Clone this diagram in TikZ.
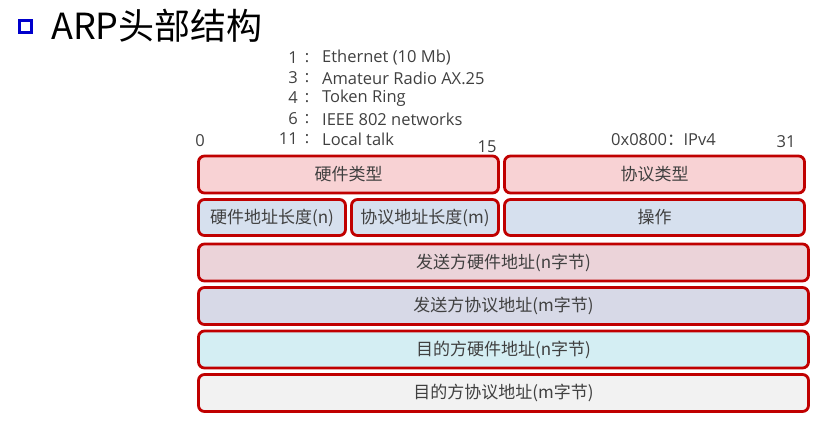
\documentclass[tikz,border=0pt]{standalone}
\usepackage{fontspec}
\setmainfont{Open Sans}
\newfontfamily\cjk{Noto Sans CJK SC}
\usepackage{tikz}
\usetikzlibrary{positioning}

\definecolor{frame}{RGB}{192,0,0}
\definecolor{txt}{RGB}{64,64,64}
\definecolor{hwtype}{RGB}{248,210,212}
\definecolor{oprow}{RGB}{214,224,238}
\definecolor{sendhw}{RGB}{235,211,217}
\definecolor{sendpr}{RGB}{215,217,231}
\definecolor{tgthw}{RGB}{212,238,243}
\definecolor{tgtpr}{RGB}{242,242,242}

\begin{document}
\begin{tikzpicture}[x=1pt, y=-1pt,
    field/.style={shape=rectangle, rounded corners=6pt, draw=frame, line width=2.8pt,
                  minimum height=37pt, inner sep=0pt, text=txt,
                  font=\cjk\fontsize{17}{17}\selectfont},
    note/.style={text=txt, inner sep=0pt, font=\fontsize{16.5}{16.5}\selectfont},
    bit/.style={text=txt, inner sep=0pt, font=\fontsize{16.5}{16.5}\selectfont}]
    \useasboundingbox (0,0) rectangle (828,432);

    % title
    \node[shape=rectangle, draw=blue!80!black, line width=2.6pt, minimum size=12pt,
          inner sep=0pt] (mark) at (25.5,26.5) {};
    \node[anchor=west, inner sep=0pt, font=\cjk\fontsize{36}{36}\selectfont] (title) at (51,26) {ARP头部结构};

    % hardware type codes
    \foreach \n/\t/\y/\k in {1/Ethernet (10 Mb)/58/a, 3/Amateur Radio AX.25/78/b,
                             4/Token Ring/98/c, 6/IEEE 802 networks/119/d, 11/Local talk/139/e} {
        \node[note, anchor=east] (num\k) at (298,\y) {\n};
        \node[note] (col\k) at (307,\y) {:};
        \node[note, anchor=west] (code\k) at (322,\y) {\t};
    }

    % bit positions
    \node[bit] (b0)  at (200,141) {0};
    \node[bit] (b15) at (487,147) {15};
    \node[bit] (b31) at (786,142) {31};
    \node[note, anchor=west] (ptype) at (611,140) {0x0800{\cjk ：}IPv4};

    % fields
    \node[field, fill=hwtype, minimum width=300pt] (htype) at (348.5,174.5) {硬件类型};
    \node[field, fill=hwtype, minimum width=300pt] (ptype) at (654.5,174.5) {协议类型};
    \node[field, fill=oprow, minimum width=147pt, minimum height=36pt] (hlen) at (272,217.5) {硬件地址长度(n)};
    \node[field, fill=oprow, minimum width=147pt, minimum height=36pt] (plen) at (425,217.5) {协议地址长度(m)};
    \node[field, fill=oprow, minimum width=300pt, minimum height=36pt] (oper) at (654.5,217.5) {操作};
    \node[field, fill=sendhw, minimum width=610pt] (sha) at (503.5,262.5) {发送方硬件地址(n字节)};
    \node[field, fill=sendpr, minimum width=610pt] (spa) at (503.5,306) {发送方协议地址(m字节)};
    \node[field, fill=tgthw, minimum width=610pt] (tha) at (503.5,349.5) {目的方硬件地址(n字节)};
    \node[field, fill=tgtpr, minimum width=610pt] (tpa) at (503.5,393) {目的方协议地址(m字节)};
\end{tikzpicture}
\end{document}
